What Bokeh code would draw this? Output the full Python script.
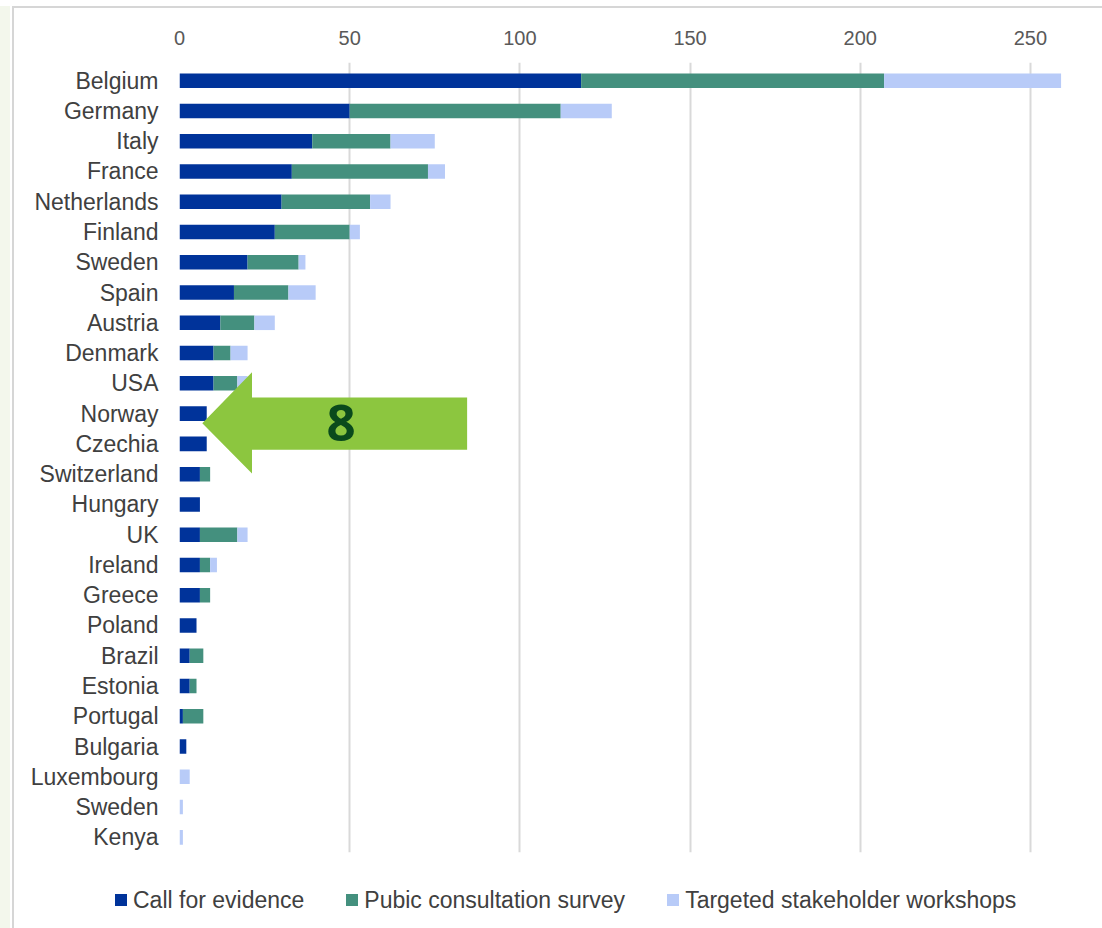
from bokeh.plotting import figure
from bokeh.layouts import column
from bokeh.models import (ColumnDataSource, Range1d, FixedTicker, PolyAnnotation, Label, Div)
from bokeh.embed import file_html
from bokeh.resources import INLINE

countries = ["Belgium", "Germany", "Italy", "France", "Netherlands", "Finland", "Sweden",
             "Spain", "Austria", "Denmark", "USA", "Norway", "Czechia", "Switzerland",
             "Hungary", "UK", "Ireland", "Greece", "Poland", "Brazil", "Estonia",
             "Portugal", "Bulgaria", "Luxembourg", "Sweden", "Kenya"]
call_for_evidence = [118, 50, 39, 33, 30, 28, 20, 16, 12, 10, 10, 8, 8, 6,
                     6, 6, 6, 6, 5, 3, 3, 1, 2, 0, 0, 0]
public_consultation = [89, 62, 23, 40, 26, 22, 15, 16, 10, 5, 7, 0, 0, 3,
                       0, 11, 3, 3, 0, 4, 2, 6, 0, 0, 0, 0]
targeted_workshops = [52, 15, 13, 5, 6, 3, 2, 8, 6, 5, 3, 0, 0, 0,
                      0, 3, 2, 0, 0, 0, 0, 0, 0, 3, 1, 1]
series_names = ["Call for evidence", "Pubic consultation survey", "Targeted stakeholder workshops"]
series_colors = ["#00339a", "#44907e", "#b8cbf8"]
x_ticks = [0, 50, 100, 150, 200, 250]
arrow_label = "8"

idx = list(range(len(countries)))
src = ColumnDataSource(dict(idx=idx, cfe=call_for_evidence, pcs=public_consultation,
                            tsw=targeted_workshops))
stackers = ["cfe", "pcs", "tsw"]

CANVAS_W = 165 + 902 + 18
p = figure(frame_width=902, frame_height=790, output_backend="svg", toolbar_location=None,
           x_range=Range1d(0, 265), y_range=Range1d(25.5, -0.6),
           x_axis_location="above",
           min_border_left=165, min_border_top=54, min_border_right=18, min_border_bottom=18)
p.outline_line_color = None
p.background_fill_color = "white"
p.border_fill_color = "white"

renderers = p.hbar_stack(stackers, y="idx", height=0.48, color=series_colors,
                         line_color=None, source=src)

xa = p.xaxis[0]
xa.ticker = FixedTicker(ticks=x_ticks)
xa.axis_line_color = None
xa.major_tick_line_color = None
xa.minor_tick_line_color = None
xa.major_label_text_font = "Liberation Sans"
xa.major_label_text_font_size = "20px"
xa.major_label_text_color = "#595959"
xa.major_label_standoff = 12

ya = p.yaxis[0]
ya.ticker = FixedTicker(ticks=idx)
ya.major_label_overrides = {i: c for i, c in zip(idx, countries)}
ya.axis_line_color = None
ya.major_tick_line_color = None
ya.minor_tick_line_color = None
ya.major_label_text_font = "Liberation Sans"
ya.major_label_text_font_size = "23px"
ya.major_label_text_color = "#404040"
ya.major_label_standoff = 15

p.xgrid.ticker = FixedTicker(ticks=x_ticks)
p.xgrid.grid_line_color = "#d9d9d9"
p.xgrid.grid_line_width = 2
p.ygrid.grid_line_color = None

# callout arrow
arrow_xs = [6.7, 21.3, 21.3, 84.5, 84.5, 21.3, 21.3]
arrow_ys = [11.32, 9.63, 10.47, 10.47, 12.19, 12.19, 12.98]
p.add_layout(PolyAnnotation(xs=arrow_xs, ys=arrow_ys, fill_color="#8cc63f", fill_alpha=1,
                            line_color=None))
p.add_layout(Label(x=47.5, y=11.32, text=arrow_label, text_align="center",
                   text_baseline="middle", text_font="Open Sans", text_font_style="bold",
                   text_font_size="51px", text_color="#0a4a1c"))

# legend row (below the chart, starting under the country labels)
legend_items = "".join(
    f'<span style="display:inline-flex;align-items:center;margin-right:42px">'
    f'<span style="display:inline-block;width:12px;height:12px;background:{c};margin-right:6px"></span>'
    f'{n}</span>'
    for n, c in zip(series_names, series_colors))
legend_div = Div(
    text=(f'<div style="padding-left:96px;padding-top:10px;font-family:\'Liberation Sans\';'
          f'font-size:23px;color:#404040;white-space:nowrap;line-height:26px">{legend_items}</div>'),
    width=CANVAS_W, height=50)

layout = column(p, legend_div, spacing=0)
layout.styles = {"border-left": "2px solid #d6d6d6", "border-top": "2px solid #d6d6d6",
                 "margin-left": "12px", "margin-top": "6px", "background-color": "white",
                 "box-shadow": "-2px 0 0 0 #ffffff, -12px 0 0 0 #f3f7ec"}

open("out.html", "w").write(file_html(layout, INLINE))
